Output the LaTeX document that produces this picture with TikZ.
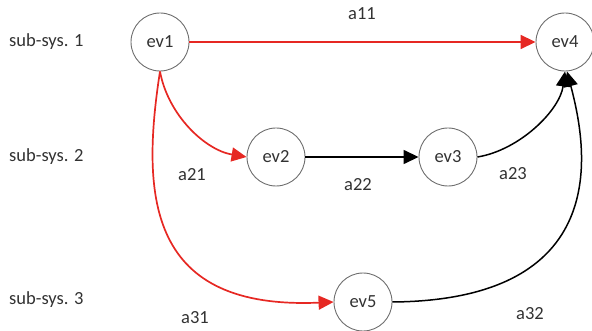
\documentclass[tikz,border=0pt]{standalone}
\usepackage{fontspec}
\setmainfont{Carlito}
\usetikzlibrary{arrows.meta}
\definecolor{edgered}{RGB}{230,40,35}
\definecolor{circgray}{RGB}{110,110,110}
\definecolor{txt}{RGB}{50,50,50}
\tikzset{
  ev/.style={circle, draw=circgray, line width=0.9pt, minimum size=58pt, inner sep=0pt, font=\fontsize{18.5}{22}\selectfont, text=txt},
  lbl/.style={font=\fontsize{18.5}{22}\selectfont, text=txt, inner sep=0pt},
  redarr/.style={draw=edgered, line width=1.7pt, -{Triangle[length=15pt,width=14pt]}},
  blkarr/.style={draw=black, line width=1.5pt, -{Triangle[length=15pt,width=14pt]}}
}
\begin{document}
\begin{tikzpicture}[x=1pt,y=-1pt]
\useasboundingbox (0,0) rectangle (592,331);
\node[ev] (ev1) at (160,42) {ev1};
\node[ev] (ev4) at (565,42) {ev4};
\node[ev] (ev2) at (276,157) {ev2};
\node[ev] (ev3) at (448,157) {ev3};
\node[ev] (ev5) at (363,302) {ev5};
\node[lbl, anchor=west] (s1) at (9,42) {sub-sys. 1};
\node[lbl, anchor=west] (s2) at (9,157) {sub-sys. 2};
\node[lbl, anchor=west] (s3) at (9,300) {sub-sys. 3};
\node[lbl] (a11) at (362,14) {a11};
\node[lbl] (a21) at (192,175) {a21};
\node[lbl] (a22) at (358,185) {a22};
\node[lbl] (a23) at (513,174) {a23};
\node[lbl] (a31) at (195,318) {a31};
\node[lbl] (a32) at (530,314) {a32};
\draw[redarr] (ev1) -- (ev4);
\draw[redarr] (ev1.south) .. controls (168,115) and (205,150) .. (ev2.west);
\draw[redarr] (ev1.south) .. controls (140,200) and (150,310) .. (ev5.west);
\draw[blkarr] (ev2) -- (ev3);
\draw[blkarr] (ev3.east) .. controls (520,150) and (560,110) .. (ev4.south);
\draw[blkarr] (ev5.east) .. controls (620,300) and (585,140) .. ([xshift=2pt]ev4.south);
\end{tikzpicture}
\end{document}
